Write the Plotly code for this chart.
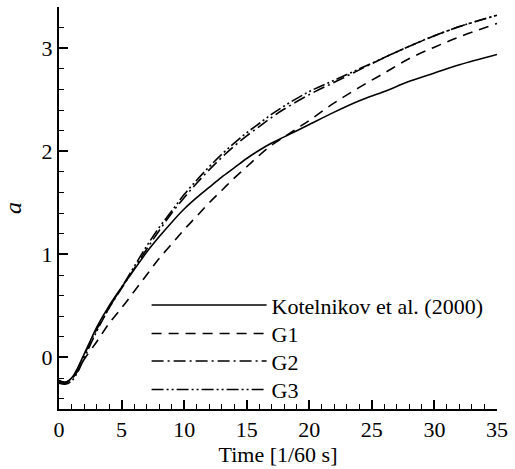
import plotly.graph_objects as go

# Kotelnikov et al. (2000)
kot_x = [0, 0.5, 1, 1.5, 2, 2.5, 3, 4, 5, 6, 7, 8, 9, 10, 11, 12, 13, 14, 15, 16, 17, 18, 19, 20, 22, 24, 26, 28, 30, 32, 35]
kot_y = [-0.22, -0.24, -0.20, -0.10, 0.03, 0.16, 0.29, 0.50, 0.68, 0.85, 1.02, 1.17, 1.31, 1.44, 1.55, 1.65, 1.75, 1.84, 1.93, 2.01, 2.08, 2.14, 2.20, 2.26, 2.38, 2.49, 2.58, 2.68, 2.76, 2.84, 2.94]

# G1
g1_x = [0, 0.5, 1, 1.5, 2, 3, 4, 5, 6, 7, 8, 9, 10, 11, 12, 13, 14, 15, 16, 17, 18, 19, 20, 22, 24, 26, 28, 30, 32, 35]
g1_y = [-0.23, -0.24, -0.21, -0.13, -0.02, 0.15, 0.33, 0.48, 0.64, 0.80, 0.96, 1.10, 1.24, 1.37, 1.50, 1.62, 1.74, 1.85, 1.96, 2.06, 2.14, 2.22, 2.30, 2.47, 2.62, 2.76, 2.90, 3.01, 3.11, 3.24]

# G2
g2_x = [0, 0.5, 1, 1.5, 2, 3, 4, 5, 6, 7, 8, 9, 10, 11, 12, 13, 14, 15, 16, 17, 18, 20, 22, 24, 26, 28, 30, 32, 35]
g2_y = [-0.24, -0.25, -0.21, -0.11, 0.02, 0.27, 0.48, 0.67, 0.86, 1.05, 1.23, 1.40, 1.55, 1.69, 1.82, 1.94, 2.05, 2.15, 2.24, 2.33, 2.41, 2.55, 2.67, 2.79, 2.91, 3.02, 3.12, 3.21, 3.32]

# G3
g3_x = g2_x
g3_y = [-0.25, -0.26, -0.23, -0.14, -0.01, 0.25, 0.48, 0.68, 0.88, 1.08, 1.26, 1.42, 1.58, 1.72, 1.85, 1.97, 2.08, 2.18, 2.27, 2.36, 2.44, 2.58, 2.69, 2.80, 2.91, 3.02, 3.12, 3.21, 3.32]

names = ["Kotelnikov et al. (2000)", "G1", "G2", "G3"]
dashes = ["solid", "10px,7px", "12px,4px,2px,4px", "12px,3px,2px,3px,2px,3px"]
legend_ids = ["legend", "legend2", "legend3", "legend4"]
legend_y = [0.3105, 0.2396, 0.1711, 0.1002]

FONT = "Liberation Serif, Times New Roman, Times, serif"

fig = go.Figure()
for xs, ys, nm, ds, lg in zip([kot_x, g1_x, g2_x, g3_x], [kot_y, g1_y, g2_y, g3_y], names, dashes, legend_ids):
    fig.add_trace(go.Scatter(x=xs, y=ys, mode="lines", name=nm, legend=lg,
                             line=dict(color="black", width=1.6, shape="spline", dash=ds)))

axis_common = dict(
    showline=True, linecolor="black", linewidth=2,
    ticks="inside", ticklen=9, tickwidth=1.5, tickcolor="black",
    showgrid=False, zeroline=False, mirror=False,
    tickfont=dict(family=FONT, size=22, color="black"),
    ticklabeloverflow="allow",
)

fig.update_xaxes(range=[0, 35], tickvals=[0, 5, 10, 15, 20, 25, 30, 35],
                 minor=dict(dtick=1, ticks="inside", ticklen=5, tickwidth=1, tickcolor="black", showgrid=False),
                 title=dict(text="Time [1/60 s]", font=dict(family=FONT, size=22, color="black"), standoff=4),
                 **axis_common)
fig.update_yaxes(range=[-0.5, 3.4], tickvals=[0, 1, 2, 3],
                 minor=dict(dtick=0.2, tick0=0, ticks="inside", ticklen=5, tickwidth=1, tickcolor="black", showgrid=False),
                 title=dict(text="<i>a</i>", font=dict(family=FONT, size=24, color="black"), standoff=18),
                 **axis_common)

layout_legends = {}
for lg, ly in zip(legend_ids, legend_y):
    layout_legends[lg] = dict(x=0.2, y=ly, xanchor="left", yanchor="top",
                              bgcolor="rgba(0,0,0,0)",
                              font=dict(family=FONT, size=22, color="black"),
                              itemwidth=115)

fig.update_layout(
    width=515, height=469,
    margin=dict(l=55, r=10, t=7, b=53),
    plot_bgcolor="white", paper_bgcolor="white",
    font=dict(family=FONT, size=22, color="black"),
    showlegend=True,
    **layout_legends,
)

fig.write_html("out.html")
